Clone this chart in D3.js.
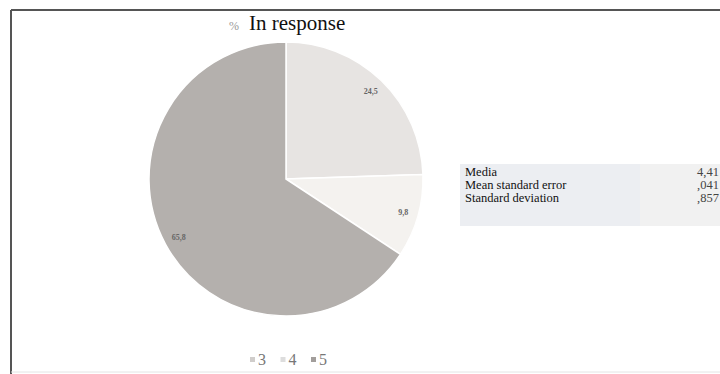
<!DOCTYPE html>
<html>
<head>
<meta charset="utf-8">
<script src="https://cdnjs.cloudflare.com/ajax/libs/d3/7.8.5/d3.min.js"></script>
<style>
  body { margin: 0; background: #fff; }
  svg { display: block; font-family: "Liberation Serif", "Times New Roman", serif; }
</style>
</head>
<body>
<div id="chart"></div>
<script>
// chart data
var categories = ["3", "4", "5"];
var percents = [24.5, 9.8, 65.8];
var pctLabels = ["24,5", "9,8", "65,8"];
var colors = ["#e7e4e2", "#f4f2ef", "#b4b0ad"];
var statNames = ["Media", "Mean standard error", "Standard deviation"];
var statValues = ["4,41", ",041", ",857"];

(function(){
    var width = 720,
        height = 374;

    var svg = d3.select("#chart")
        .append("svg")
        .attr("width", width)
        .attr("height", height);

    // frame lines
    svg.append("line").attr("x1", 11).attr("x2", width).attr("y1", 10).attr("y2", 10)
        .attr("stroke", "#555").attr("stroke-width", 2);
    svg.append("line").attr("x1", 11).attr("x2", 11).attr("y1", 10).attr("y2", height)
        .attr("stroke", "#555").attr("stroke-width", 2);
    svg.append("line").attr("x1", 11).attr("x2", width).attr("y1", 372).attr("y2", 372)
        .attr("stroke", "#e4e4e4").attr("stroke-width", 1);

    // title
    var title = svg.append("text").attr("x", 229).attr("y", 30);
    title.append("tspan").attr("fill", "#999").attr("font-size", 12).text("%");
    title.append("tspan").attr("dx", 10).attr("fill", "#111").attr("font-size", 21).text("In response");

    // pie
    var cx = 286, cy = 179, r = 137;
    var data = categories.map(function(c, i){
        return {cat: c, value: percents[i], label: pctLabels[i], color: colors[i]};
    });

    var pie = d3.pie().sort(null).value(function(d){ return d.value });
    var arc = d3.arc().innerRadius(0).outerRadius(r);
    var labelArc = d3.arc().innerRadius(r * 0.89).outerRadius(r * 0.89);

    var g = svg.append("g").attr("transform", "translate(" + cx + "," + cy + ")");
    var arcs = pie(data);

    g.selectAll(".slice")
        .data(arcs)
        .enter().append("path")
        .attr("class", "slice")
        .attr("d", arc)
        .attr("fill", function(d){ return d.data.color })
        .attr("stroke", "#fff")
        .attr("stroke-width", 1.5);

    g.selectAll(".lbl")
        .data(arcs)
        .enter().append("text")
        .attr("class", "lbl")
        .attr("transform", function(d){ return "translate(" + labelArc.centroid(d) + ")" })
        .attr("text-anchor", "middle")
        .attr("dy", "0.35em")
        .attr("font-size", 8)
        .attr("font-weight", "bold")
        .attr("fill", "#666")
        .text(function(d){ return d.data.label });

    // legend
    var legendX = d3.scalePoint().domain(categories).range([250, 311]);
    var leg = svg.selectAll(".leg")
        .data(data)
        .enter().append("g")
        .attr("class", "leg")
        .attr("transform", function(d){ return "translate(" + legendX(d.cat) + ",365)" });
    leg.append("rect")
        .attr("x", 0).attr("y", -8)
        .attr("width", 5).attr("height", 5)
        .attr("fill", function(d){ return d.cat === "4" ? "#ddd" : d3.color(d.color).darker(0.3) });
    leg.append("text")
        .attr("x", 8)
        .attr("font-size", 16)
        .attr("fill", "#777")
        .text(function(d){ return d.cat });

    // stats table
    var rowY = d3.scaleBand().domain(statNames).range([164, 203]);
    svg.append("rect").attr("x", 460).attr("y", 164).attr("width", 180).attr("height", 62)
        .attr("fill", "#eceef2");
    svg.append("rect").attr("x", 640).attr("y", 164).attr("width", 80).attr("height", 62)
        .attr("fill", "#f1f1f1");
    svg.selectAll(".sname")
        .data(statNames)
        .enter().append("text")
        .attr("class", "sname")
        .attr("x", 465)
        .attr("y", function(d){ return rowY(d) + 12 })
        .attr("font-size", 12.5)
        .attr("fill", "#111")
        .text(function(d){ return d });
    svg.selectAll(".sval")
        .data(statValues)
        .enter().append("text")
        .attr("class", "sval")
        .attr("x", 697)
        .attr("y", function(d, i){ return rowY(statNames[i]) + 12 })
        .attr("font-size", 12.5)
        .attr("fill", "#444")
        .text(function(d){ return d });
})();
</script>
</body>
</html>
